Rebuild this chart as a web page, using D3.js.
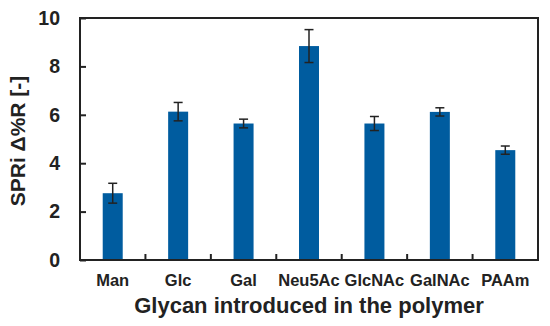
<!DOCTYPE html>
<html>
<head>
<meta charset="utf-8">
<script src="https://cdn.jsdelivr.net/npm/d3@7"></script>
<style>
  body { margin: 0; background: #fff; }
  text { font-family: "Liberation Sans", Arial, sans-serif; font-weight: bold; fill: #222; }
</style>
</head>
<body>
<script>
// data
var glycans = ["Man", "Glc", "Gal", "Neu5Ac", "GlcNAc", "GalNAc", "PAAm"];
var signal = [2.76, 6.13, 5.64, 8.84, 5.64, 6.12, 4.54];
var errs = [0.41, 0.38, 0.18, 0.68, 0.29, 0.17, 0.17];
var yTicks = [0, 2, 4, 6, 8, 10];

var width = 550, height = 326;
var margin = {left: 80, right: 12, top: 18, bottom: 66};

var svg = d3.select("body").append("svg")
  .attr("width", width)
  .attr("height", height);

var x = d3.scaleBand()
  .domain(glycans)
  .range([margin.left, width - margin.right]);

var y = d3.scaleLinear()
  .domain([0, 10])
  .range([height - margin.bottom, margin.top]);

var barW = 20;

// bars
svg.selectAll("rect.bar")
  .data(glycans)
  .enter().append("rect")
  .attr("class", "bar")
  .attr("x", function(d) { return x(d) + x.bandwidth() / 2 - barW / 2; })
  .attr("y", function(d, i) { return y(signal[i]); })
  .attr("width", barW)
  .attr("height", function(d, i) { return y(0) - y(signal[i]); })
  .attr("fill", "#005c9f");

// error bars
var eb = svg.selectAll("g.err")
  .data(glycans)
  .enter().append("g")
  .attr("class", "err")
  .attr("stroke", "#222")
  .attr("stroke-width", 1.5);

eb.append("line")
  .attr("x1", function(d) { return x(d) + x.bandwidth() / 2; })
  .attr("x2", function(d) { return x(d) + x.bandwidth() / 2; })
  .attr("y1", function(d, i) { return y(signal[i] + errs[i]); })
  .attr("y2", function(d, i) { return y(signal[i] - errs[i]); });

[1, -1].forEach(function(s) {
  eb.append("line")
    .attr("x1", function(d) { return x(d) + x.bandwidth() / 2 - 4.5; })
    .attr("x2", function(d) { return x(d) + x.bandwidth() / 2 + 4.5; })
    .attr("y1", function(d, i) { return y(signal[i] + s * errs[i]); })
    .attr("y2", function(d, i) { return y(signal[i] + s * errs[i]); });
});

// y axis, ticks pointing inwards
var yAxis = svg.append("g")
  .attr("transform", "translate(" + margin.left + ",0)")
  .call(d3.axisLeft(y).tickValues(yTicks).tickSize(-6).tickPadding(20));
yAxis.selectAll("text").style("font-size", "19.5px");

// x axis: ticks at the category boundaries
var bounds = glycans.slice(1).map(function(d) { return x(d); });
var xAxis = svg.append("g")
  .attr("transform", "translate(0," + (height - margin.bottom) + ")");
xAxis.selectAll("line.tk")
  .data(bounds)
  .enter().append("line")
  .attr("x1", function(d) { return d; })
  .attr("x2", function(d) { return d; })
  .attr("y1", 0)
  .attr("y2", -6)
  .attr("stroke", "#222")
  .attr("stroke-width", 2);
xAxis.selectAll("text")
  .data(glycans)
  .enter().append("text")
  .attr("x", function(d) { return x(d) + x.bandwidth() / 2; })
  .attr("y", 26)
  .attr("text-anchor", "middle")
  .style("font-size", "16.5px")
  .text(function(d) { return d; });

yAxis.selectAll(".tick line").attr("stroke", "#222").attr("stroke-width", 2);
yAxis.select(".domain").remove();

// frame
svg.append("rect")
  .attr("x", margin.left)
  .attr("y", margin.top)
  .attr("width", width - margin.left - margin.right)
  .attr("height", height - margin.top - margin.bottom)
  .attr("fill", "none")
  .attr("stroke", "#222")
  .attr("stroke-width", 2);

// titles
svg.append("text")
  .attr("x", (margin.left + width - margin.right) / 2)
  .attr("y", 313)
  .attr("text-anchor", "middle")
  .style("font-size", "22px")
  .text("Glycan introduced in the polymer");

svg.append("text")
  .attr("transform", "translate(25," + (margin.top + (height - margin.bottom - margin.top) / 2 + 2) + ") rotate(-90)")
  .attr("text-anchor", "middle")
  .style("font-size", "21px")
  .text("SPRi Δ%R [-]");
</script>
</body>
</html>
